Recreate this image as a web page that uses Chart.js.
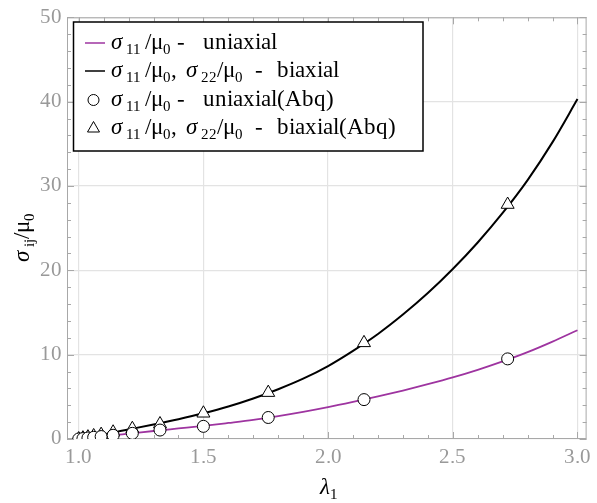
<!DOCTYPE html>
<html>
<head>
<meta charset="utf-8">
<script src="https://cdn.jsdelivr.net/npm/chart.js@4.4.1/dist/chart.umd.min.js"></script>
<style>
  @font-face {
    font-family: "PlotSerif";
    font-style: normal;
    src: local("Liberation Serif"), local("LiberationSerif"), local("LiberationSerif-Regular"),
         local("Times New Roman"), local("Tinos"), local("DejaVu Serif"), local("DejaVuSerif");
  }
  @font-face {
    font-family: "PlotSerif";
    font-style: italic;
    src: local("Liberation Serif Italic"), local("LiberationSerif-Italic"),
         local("Times New Roman Italic"), local("DejaVu Serif Italic"), local("DejaVuSerif-Italic");
  }
  html, body { margin: 0; padding: 0; background: #fff; }
  #fontwarm { position: absolute; left: -1000px; top: 0; font-family: "PlotSerif"; }
</style>
</head>
<body>
<canvas id="myChart" width="597" height="503"></canvas>
<div id="fontwarm">σ μ λ 0123 <i>σ λ abc</i></div>
<script>
// stretch lambda_1 along the analytic curves
var lambdaCurve = [1.0, 1.05, 1.1, 1.15, 1.2, 1.3, 1.4, 1.5, 1.6, 1.7, 1.8, 1.9, 2.0,
                   2.1, 2.2, 2.3, 2.4, 2.5, 2.6, 2.7, 2.8, 2.9, 3.0];
var uniaxialCurve = [0, 0.16, 0.32, 0.48, 0.63, 0.95, 1.25, 1.55, 1.9, 2.27, 2.72, 3.22, 3.78,
                     4.4, 5.05, 5.75, 6.5, 7.3, 8.2, 9.2, 10.3, 11.55, 12.9];
var biaxialCurve = [0, 0.27, 0.55, 0.84, 1.13, 1.72, 2.35, 3.05, 3.85, 4.8, 5.9, 7.15, 8.65,
                    10.45, 12.45, 14.75, 17.3, 20.15, 23.3, 26.8, 30.7, 35.2, 40.3];

// Abaqus increments
var lambdaAbq = [1.0, 1.017, 1.037, 1.06, 1.09, 1.138, 1.215, 1.326, 1.5, 1.76, 2.144, 2.72];
var uniaxialAbq = [0, 0.05, 0.12, 0.2, 0.29, 0.44, 0.67, 1.06, 1.5, 2.55, 4.67, 9.5];
var biaxialAbq = [0, 0.1, 0.22, 0.36, 0.52, 0.8, 1.22, 1.78, 3.05, 5.5, 11.4, 27.8];

var xTicks = [1.0, 1.5, 2.0, 2.5, 3.0];
var yTicks = [0, 10, 20, 30, 40, 50];

var serif = '"PlotSerif", "Liberation Serif", "Times New Roman", "DejaVu Serif", serif';
var purple = 'rgb(158, 52, 160)';
var frameGray = '#a8a8a8';

function pts(xs, ys) {
  return xs.map(function (x, i) { return { x: x, y: ys[i] }; });
}

// text runs with subscripts
function N(t) { return { t: t, size: 23, dy: 0, it: false }; }
function I(t) { return { t: t, size: 23, dy: 0, it: true }; }
function B(t) { return { t: t, size: 15, dy: 5, it: false }; }

function runWidth(c, runs) {
  var w = 0;
  runs.forEach(function (r) {
    if (typeof r === 'number') { w += r; return; }
    c.font = (r.it ? 'italic ' : '') + r.size + 'px ' + serif;
    w += c.measureText(r.t).width;
  });
  return w;
}

function drawRuns(c, x, y, runs) {
  runs.forEach(function (r) {
    if (typeof r === 'number') { x += r; return; }
    c.font = (r.it ? 'italic ' : '') + r.size + 'px ' + serif;
    c.fillText(r.t, x, y + r.dy);
    x += c.measureText(r.t).width;
  });
}

// frame with inward major/minor ticks on all four sides
var framePlugin = {
  id: 'frame',
  beforeDatasetsDraw: function (chart) {
    var c = chart.ctx, a = chart.chartArea;
    var xs = chart.scales.x, ys = chart.scales.y;
    c.save();
    c.strokeStyle = frameGray;
    c.lineWidth = 1;
    c.strokeRect(a.left + 0.5, a.top + 0.5, a.right - a.left - 1, a.bottom - a.top - 1);
    c.beginPath();
    for (var i = 0; i <= 20; i++) {
      var v = 1.0 + i * 0.1;
      var px = Math.round(xs.getPixelForValue(v)) + 0.5;
      var len = (i % 5 === 0) ? 7 : 4;
      c.moveTo(px, a.bottom); c.lineTo(px, a.bottom - len);
      c.moveTo(px, a.top); c.lineTo(px, a.top + len);
    }
    for (var j = 0; j <= 25; j++) {
      var py = Math.round(ys.getPixelForValue(j * 2)) + 0.5;
      var l2 = (j % 5 === 0) ? 7 : 4;
      c.moveTo(a.left, py); c.lineTo(a.left + l2, py);
      c.moveTo(a.right, py); c.lineTo(a.right - l2, py);
    }
    c.stroke();
    c.restore();
  }
};

// legend box and axis titles
var textPlugin = {
  id: 'texts',
  afterDraw: function (chart) {
    var c = chart.ctx;
    c.save();

    // legend
    c.fillStyle = '#fff';
    c.fillRect(73.5, 22, 349.5, 129);
    c.strokeStyle = '#000';
    c.lineWidth = 1.5;
    c.strokeRect(73.5, 22, 349.5, 129);

    var rows = [43, 71, 100, 128];
    c.lineWidth = 1.5;
    c.strokeStyle = purple;
    c.beginPath(); c.moveTo(85, rows[0]); c.lineTo(105, rows[0]); c.stroke();
    c.strokeStyle = '#000';
    c.beginPath(); c.moveTo(85, rows[1]); c.lineTo(105, rows[1]); c.stroke();
    c.lineWidth = 1;
    c.beginPath(); c.arc(93.5, rows[2], 5.5, 0, Math.PI * 2); c.stroke();
    c.beginPath();
    c.moveTo(93.5, rows[3] - 6.5); c.lineTo(99.5, rows[3] + 4); c.lineTo(87.5, rows[3] + 4);
    c.closePath(); c.stroke();

    c.fillStyle = '#000';
    c.textBaseline = 'alphabetic';
    c.textAlign = 'left';
    var uni = [I('σ'), B(' 11 '), N('/μ'), B('0'), N(' -   ')];
    var bi = [I('σ'), B(' 11 '), N('/μ'), B('0'), N(', '), 3, I('σ'), B(' 22'), N('/μ'), B('0'), N('  -  '), 2];
    drawRuns(c, 111, rows[0] + 6, uni.concat([N('uniaxial')]));
    drawRuns(c, 111, rows[1] + 6, bi.concat([N('biaxial')]));
    drawRuns(c, 111, rows[2] + 6, uni.concat([N('uniaxial(Abq)')]));
    drawRuns(c, 111, rows[3] + 6, bi.concat([N('biaxial(Abq)')]));

    // y title
    var yt = [I('σ'), B(' ij'), N('/μ'), B('0')];
    c.save();
    c.translate(29, 237);
    c.rotate(-Math.PI / 2);
    drawRuns(c, -runWidth(c, yt) / 2, 0, yt);
    c.restore();

    // x title
    drawRuns(c, 320, 494, [I('λ'), B('1')]);
    c.restore();
  }
};

function makeChart() {
  var ctx = document.getElementById('myChart').getContext('2d');
  return new Chart(ctx, {
    type: 'scatter',
    data: {
      datasets: [
        {
          label: 'uniaxial(Abq)',
          data: pts(lambdaAbq, uniaxialAbq),
          showLine: false,
          pointStyle: 'circle',
          pointRadius: 6,
          pointBackgroundColor: '#fff',
          pointBorderColor: '#000',
          pointBorderWidth: 1,
          order: 0
        },
        {
          label: 'biaxial(Abq)',
          data: pts(lambdaAbq, biaxialAbq),
          showLine: false,
          pointStyle: 'triangle',
          pointRadius: 7.5,
          pointBackgroundColor: '#fff',
          pointBorderColor: '#000',
          pointBorderWidth: 1,
          order: 0
        },
        {
          label: 'uniaxial',
          data: pts(lambdaCurve, uniaxialCurve),
          showLine: true,
          borderColor: purple,
          borderWidth: 1.8,
          pointRadius: 0,
          cubicInterpolationMode: 'monotone',
          order: 1
        },
        {
          label: 'biaxial',
          data: pts(lambdaCurve, biaxialCurve),
          showLine: true,
          borderColor: '#000',
          borderWidth: 2,
          pointRadius: 0,
          cubicInterpolationMode: 'monotone',
          order: 1
        }
      ]
    },
    options: {
      responsive: false,
      animation: false,
      events: [],
      layout: { padding: { top: 14, right: 1, left: 0, bottom: 0 }, autoPadding: false },
      plugins: { legend: { display: false }, tooltip: { enabled: false } },
      scales: {
        x: {
          type: 'linear',
          min: 0.9531,
          max: 3.0366,
          afterBuildTicks: function (s) { s.ticks = xTicks.map(function (v) { return { value: v }; }); },
          afterFit: function (s) { s.height = 64; },
          grid: { color: '#e3e3e3', lineWidth: 1.2, drawTicks: false },
          border: { display: false },
          ticks: {
            autoSkip: false, maxRotation: 0,
            callback: function (v) { return v.toFixed(1); },
            font: { family: serif, size: 20.5 },
            color: '#999',
            padding: 6
          }
        },
        y: {
          min: 0,
          max: 50,
          afterBuildTicks: function (s) { s.ticks = yTicks.map(function (v) { return { value: v }; }); },
          afterFit: function (s) { s.width = 67; },
          grid: { color: '#e3e3e3', lineWidth: 1.2, drawTicks: false },
          border: { display: false },
          ticks: {
            autoSkip: false,
            font: { family: serif, size: 20.5 },
            color: '#999',
            padding: 5
          }
        }
      }
    },
    plugins: [framePlugin, textPlugin]
  });
}

var chartOne;
var fontLoads = [
  document.fonts.load('23px "PlotSerif"', 'σμλ0'),
  document.fonts.load('italic 23px "PlotSerif"', 'σλ')
];
Promise.all(fontLoads).then(function () { chartOne = makeChart(); }, function () { chartOne = makeChart(); });
</script>
</body>
</html>
